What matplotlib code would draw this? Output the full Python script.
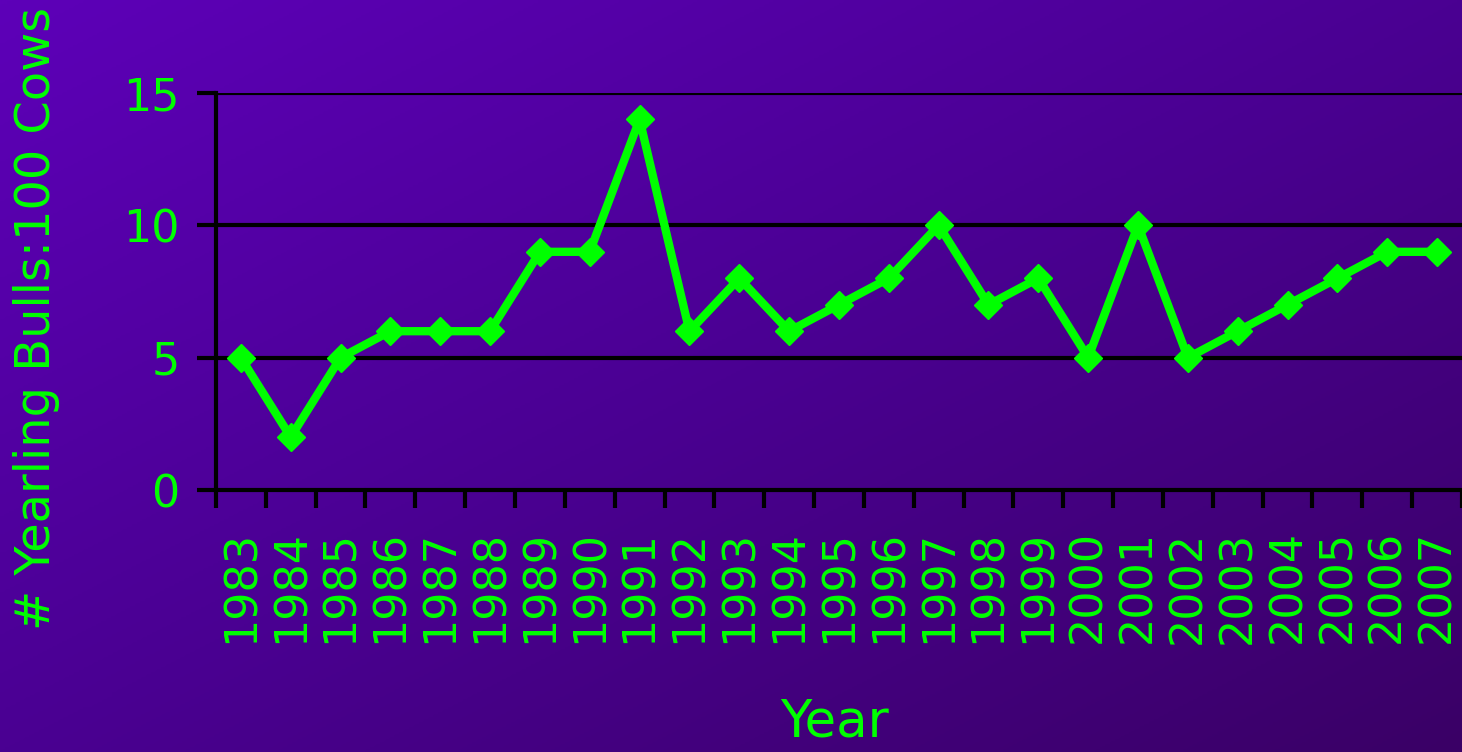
import numpy as np
import matplotlib.pyplot as plt
from matplotlib.colors import LinearSegmentedColormap
from matplotlib.ticker import FixedLocator

years = ['1983', '1984', '1985', '1986', '1987', '1988', '1989', '1990', '1991',
         '1992', '1993', '1994', '1995', '1996', '1997', '1998', '1999', '2000',
         '2001', '2002', '2003', '2004', '2005', '2006', '2007']
bulls_per_100 = [5, 2, 5, 6, 6, 6, 9, 9, 14, 6, 8, 6, 7, 8, 10, 7, 8, 5,
                 10, 5, 6, 7, 8, 9, 9]
y_ticks = [0, 5, 10, 15]

green = '#00ff00'
plt.rcParams['font.family'] = ['DejaVu Sans']

fig = plt.figure(figsize=(14.62, 7.52), dpi=100)

# diagonal purple background
bg = fig.add_axes([0, 0, 1, 1], zorder=-10)
gx, gy = np.meshgrid(np.linspace(0, 1, 300), np.linspace(0, 1, 300))
grad = (gx + gy) / 2
cmap = LinearSegmentedColormap.from_list('bg', ['#5d00b8', '#4a0092', '#3a0066'])
bg.imshow(grad, cmap=cmap, aspect='auto', extent=[0, 1, 0, 1], origin='upper')
bg.axis('off')

ax = fig.add_axes([0.1477, 0.3484, 0.8523, 0.5279])
ax.patch.set_alpha(0)

x = np.arange(len(years))
ax.plot(x, bulls_per_100, color=green, lw=6, marker='D', ms=14,
        mec=green, mew=1, solid_joinstyle='miter', zorder=5, clip_on=False)

ax.set_xlim(-0.5, len(years) - 0.5)
ax.set_ylim(0, 15)

ax.set_xticks(x)
ax.set_xticklabels(years, rotation=90, fontsize=32, color=green, va='top')
ax.xaxis.set_minor_locator(FixedLocator(np.arange(len(years) + 1) - 0.5))
ax.tick_params(axis='x', which='major', length=0, pad=29)
ax.tick_params(axis='x', which='minor', length=13, width=3, color='black',
               direction='out')

ax.set_yticks(y_ticks)
ax.set_yticklabels([str(v) for v in y_ticks], fontsize=32, color=green)
ax.tick_params(axis='y', length=14, width=3, color='black', pad=12)

for v in y_ticks[1:]:
    ax.axhline(v, color='black', lw=3, zorder=1)

for side in ['top', 'right']:
    ax.spines[side].set_visible(False)
for side in ['left', 'bottom']:
    ax.spines[side].set_linewidth(3)
    ax.spines[side].set_color('black')

ax.set_ylabel('# Yearling Bulls:100 Cows', fontsize=34.5, color=green)
ax.yaxis.set_label_coords(-0.125, 0.433)
fig.text(0.571, 0.02, 'Year', fontsize=37, color=green, ha='center', va='baseline')

fig.savefig('out.png', dpi=100)
